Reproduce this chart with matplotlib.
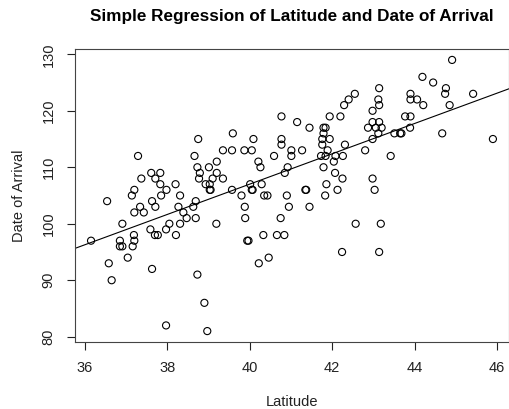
import numpy as np
import matplotlib
matplotlib.use("Agg")
import matplotlib.pyplot as plt

plt.rcParams['font.family'] = ['Liberation Sans', 'DejaVu Sans']

# latitude / arrival day pairs, grouped roughly by region of the scatter
lat_a = [38.75, 37.29, 38.66, 39.20, 38.73, 39.01, 37.61, 37.83, 38.79, 39.20,
         37.37, 37.71, 38.77, 39.10, 37.83, 38.20, 38.93, 39.03, 37.20, 37.98,
         39.03, 39.05]
day_a = [115, 112, 112, 111, 110, 110, 109, 109, 109, 109,
         108, 108, 108, 108, 107, 107, 107, 107, 106, 106,
         106, 106]

lat_b = [36.54, 37.14, 37.85, 38.31, 37.63, 37.34, 37.71, 38.27, 38.63, 38.69,
         37.20, 37.43, 38.39, 38.47, 38.69, 36.91, 38.05, 38.31, 39.19, 37.59,
         37.97, 37.19, 37.70, 37.77, 38.21, 36.15, 36.85, 37.20, 36.85, 36.91,
         37.16, 37.04, 36.58, 37.63, 38.73, 36.65, 38.90, 37.97, 38.97]
day_b = [104, 105, 105, 105, 104, 103, 103, 103, 103, 104,
         102, 102, 102, 101, 101, 100, 100, 100, 100, 99,
         99, 98, 98, 98, 98, 97, 97, 97, 96, 96,
         96, 94, 93, 92, 91, 90, 86, 82, 81]

lat_c = [42.55, 42.40, 42.29, 40.77, 41.94, 42.20, 41.15, 41.45, 41.79, 41.84,
         39.59, 41.79, 40.09, 40.77, 41.76, 41.94, 40.77, 41.76, 42.31, 39.35,
         39.57, 39.87, 40.05, 41.01, 41.27, 41.89, 40.59, 41.01, 41.73, 41.84,
         42.08, 42.26, 40.21, 42.04, 40.26, 40.92, 41.79, 40.85, 42.07, 39.35,
         42.25, 40.01, 40.29, 41.86, 39.57, 40.05, 40.07, 41.35, 41.37, 42.13]
day_c = [123, 122, 121, 119, 119, 119, 118, 117, 117, 117,
         116, 116, 115, 115, 115, 115, 114, 114, 114, 113,
         113, 113, 113, 113, 113, 113, 112, 112, 112, 112,
         112, 112, 111, 111, 110, 110, 110, 109, 109, 108,
         108, 107, 107, 107, 106, 106, 106, 106, 106, 106]

lat_d = [39.80, 40.35, 40.43, 40.90, 41.83, 39.88, 40.95, 41.45, 39.89, 40.75,
         42.57, 40.33, 40.66, 40.84, 39.94, 39.97, 42.24, 40.46, 40.22]
day_d = [105, 105, 105, 105, 105, 103, 103, 103, 101, 101,
         100, 98, 98, 98, 97, 97, 95, 94, 93]

lat_e = [44.91, 44.19, 44.45, 44.76, 43.14, 44.74, 45.42, 43.90, 43.12, 43.90,
         44.06, 43.14, 44.21, 44.85, 42.98, 43.77, 43.90, 42.98, 43.14, 42.87,
         43.06, 43.20, 43.89, 43.12, 43.51, 43.65, 43.68, 44.67, 42.98, 45.90,
         42.80, 43.42, 42.98, 43.03, 43.18, 43.14]
day_e = [129, 126, 125, 124, 124, 123, 123, 123, 122, 122,
         122, 121, 121, 121, 120, 119, 119, 118, 118, 117,
         117, 117, 117, 116, 116, 116, 116, 116, 115, 115,
         113, 112, 108, 106, 100, 95]

latitude = np.array(lat_a + lat_b + lat_c + lat_d + lat_e)
arrival = np.array(day_a + day_b + day_c + day_d + day_e)

# least squares fit, drawn like abline(lm(arrival ~ latitude))
slope, intercept = np.polyfit(latitude, arrival, 1)

def r_limits(v):
    pad = (v.max() - v.min()) * 0.04
    return v.min() - pad, v.max() + pad

fig = plt.figure(figsize=(5.10, 4.09), dpi=100)
ax = fig.add_axes([0.147, 0.164, 0.851, 0.716])

ax.scatter(latitude, arrival, s=26, facecolors='none', edgecolors='black',
           linewidths=0.8, zorder=3)

xlo, xhi = r_limits(latitude)
ylo, yhi = r_limits(arrival)
ax.set_xlim(xlo, xhi)
ax.set_ylim(ylo, yhi)

xs = np.array([xlo, xhi])
ax.plot(xs, intercept + slope * xs, color='black', lw=0.8, zorder=2)

ax.set_xticks([36, 38, 40, 42, 44, 46])
ax.set_yticks([80, 90, 100, 110, 120, 130])
ax.tick_params(direction='out', length=5.5, width=0.8, labelsize=10.5,
               pad=8.5, colors='#222222')
for lbl in ax.get_yticklabels():
    lbl.set_rotation(90)
    lbl.set_va('center')
for sp in ax.spines.values():
    sp.set_linewidth(0.8)
    sp.set_color('#444444')

ax.set_xlabel('Latitude', fontsize=10.5, labelpad=14, color='#222222')
ax.set_ylabel('Date of Arrival', fontsize=10.5, labelpad=11, color='#222222')
ax.set_title('Simple Regression of Latitude and Date of Arrival',
             fontsize=12.3, fontweight='bold', pad=20)

fig.savefig('out.png', dpi=100)
